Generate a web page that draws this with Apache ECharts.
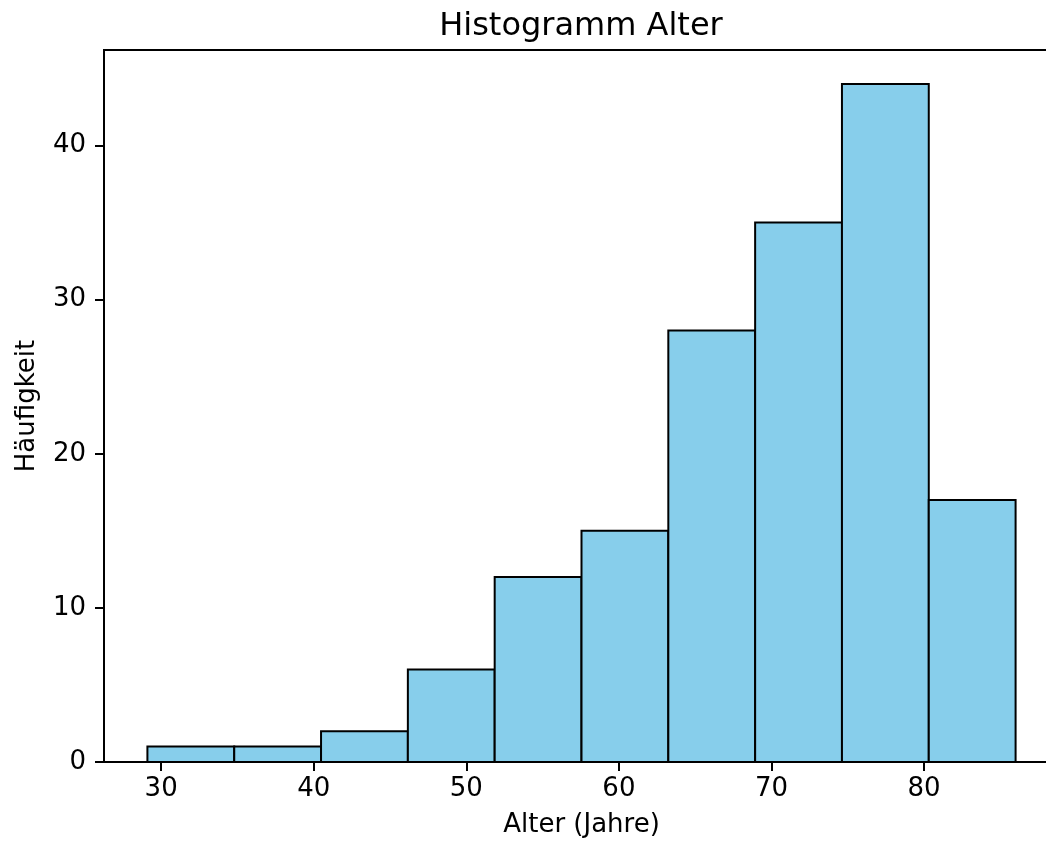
<!DOCTYPE html>
<html>
<head>
<meta charset="utf-8">
<script src="https://cdn.jsdelivr.net/npm/echarts@6/dist/echarts.min.js"></script>
<style>
html,body{margin:0;padding:0;background:#fff;overflow:hidden;}
#chart{width:1046px;height:843px;}
</style>
</head>
<body>
<div id="chart"></div>
<script>
const titleText = 'Histogramm Alter';
const xName = 'Alter (Jahre)';
const yName = 'Häufigkeit';
const binEdges = [29.1, 34.79, 40.48, 46.17, 51.86, 57.55, 63.24, 68.93, 74.62, 80.31, 86.0];
const counts = [1, 1, 2, 6, 12, 15, 28, 35, 44, 17];
const xTicks = [30, 40, 50, 60, 70, 80];
const yTicks = [0, 10, 20, 30, 40];

const barData = counts.map((c, i) => [binEdges[i], binEdges[i + 1], c]);
const span = binEdges[binEdges.length - 1] - binEdges[0];
const xMin = binEdges[0] - span * 0.05;
const xMax = binEdges[binEdges.length - 1] + span * 0.05;
const yMax = Math.max(...counts) * 1.05;

const FONT = 'DejaVu Sans';
const chart = echarts.init(document.getElementById('chart'), null, {renderer: 'canvas'});
chart.setOption({
  animation: false,
  backgroundColor: '#fff',
  title: {
    text: titleText,
    left: 576,
    top: 6,
    textAlign: 'center',
    textStyle: {fontFamily: FONT, fontSize: 32, fontWeight: 'normal', color: '#000'}
  },
  grid: {
    left: 104, width: 955, top: 50, bottom: 81,
    containLabel: false,
    outerBoundsMode: 'none',
    show: true, borderColor: '#000', borderWidth: 2, backgroundColor: '#fff'
  },
  xAxis: {
    type: 'value',
    min: xMin, max: xMax,
    name: xName,
    nameLocation: 'middle',
    nameGap: 50,
    nameTextStyle: {fontFamily: FONT, fontSize: 26, color: '#000'},
    axisLine: {show: true, onZero: false, lineStyle: {color: '#000', width: 2}},
    axisTick: {show: true, length: 9, lineStyle: {color: '#000', width: 2}, customValues: xTicks},
    axisLabel: {fontFamily: FONT, fontSize: 26, color: '#000', margin: 14, customValues: xTicks},
    splitLine: {show: false}
  },
  yAxis: {
    type: 'value',
    min: 0, max: yMax,
    name: yName,
    nameLocation: 'middle',
    nameGap: 64,
    nameRotate: 90,
    nameTextStyle: {fontFamily: FONT, fontSize: 26, color: '#000'},
    axisLine: {show: true, onZero: false, lineStyle: {color: '#000', width: 2}},
    axisTick: {show: true, length: 9, lineStyle: {color: '#000', width: 2}, customValues: yTicks},
    axisLabel: {fontFamily: FONT, fontSize: 26, color: '#000', margin: 18, customValues: yTicks},
    splitLine: {show: false}
  },
  series: [{
    type: 'custom',
    data: barData,
    encode: {x: [0, 1], y: 2},
    clip: true,
    renderItem: function (params, api) {
      const p0 = api.coord([api.value(0), 0]);
      const p1 = api.coord([api.value(1), api.value(2)]);
      return {
        type: 'rect',
        shape: {x: p0[0], y: p1[1], width: p1[0] - p0[0], height: p0[1] - p1[1]},
        style: {fill: '#87CEEB', stroke: '#000', lineWidth: 2}
      };
    }
  }]
});
</script>
</body>
</html>
